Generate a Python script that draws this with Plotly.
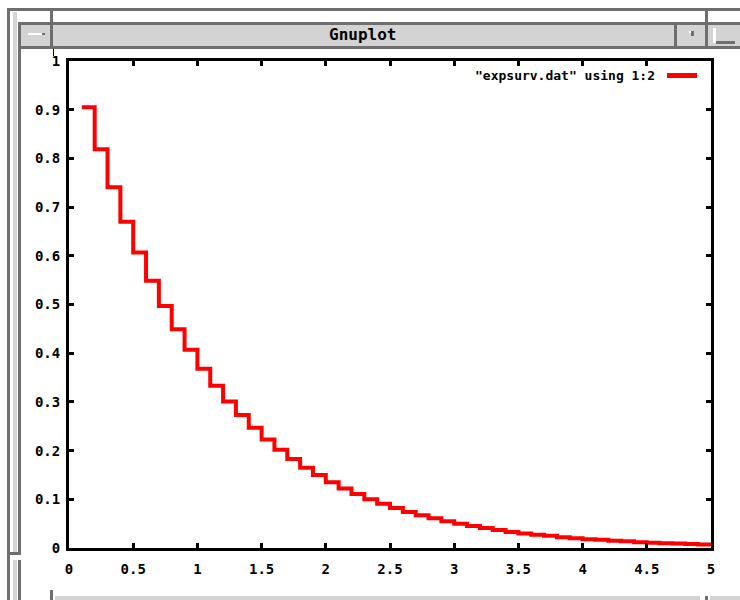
import plotly.graph_objects as go

# ---- data ----
x_vals = [0.1, 0.2, 0.3, 0.4, 0.5, 0.6, 0.7, 0.8, 0.9, 1.0,
          1.1, 1.2, 1.3, 1.4, 1.5, 1.6, 1.7, 1.8, 1.9, 2.0,
          2.1, 2.2, 2.3, 2.4, 2.5, 2.6, 2.7, 2.8, 2.9, 3.0,
          3.1, 3.2, 3.3, 3.4, 3.5, 3.6, 3.7, 3.8, 3.9, 4.0,
          4.1, 4.2, 4.3, 4.4, 4.5, 4.6, 4.7, 4.8, 4.9, 5.0]
y_vals = [0.905, 0.819, 0.741, 0.670, 0.607, 0.549, 0.497, 0.449, 0.407, 0.368,
          0.333, 0.301, 0.273, 0.247, 0.223, 0.202, 0.183, 0.165, 0.150, 0.135,
          0.122, 0.111, 0.100, 0.091, 0.082, 0.074, 0.067, 0.061, 0.055, 0.050,
          0.045, 0.041, 0.037, 0.033, 0.030, 0.027, 0.025, 0.022, 0.020, 0.018,
          0.017, 0.015, 0.014, 0.012, 0.011, 0.010, 0.009, 0.008, 0.007, 0.007]
x_ticks = [0, 0.5, 1, 1.5, 2, 2.5, 3, 3.5, 4, 4.5, 5]
x_tick_text = ["0", "0.5", "1", "1.5", "2", "2.5", "3", "3.5", "4", "4.5", "5"]
y_ticks = [0, 0.1, 0.2, 0.3, 0.4, 0.5, 0.6, 0.7, 0.8, 0.9, 1]
y_tick_text = ["0", "0.1", "0.2", "0.3", "0.4", "0.5", "0.6", "0.7", "0.8", "0.9", "1"]
legend_label = '"expsurv.dat" using 1:2'
window_title = "Gnuplot"

# ---- geometry ----
W, H = 740, 600
L, R, T, B = 69, 711, 61, 548
PW, PH = R - L, B - T

def px(x):
    return (x - L) / PW

def py(y):
    return (B - y) / PH

DARK = "#6e6e6e"
LIGHT = "#d3d3d3"
FONT = "DejaVu Sans Mono"

fig = go.Figure()
fig.add_trace(go.Scatter(
    x=x_vals, y=y_vals, mode="lines", line_shape="hv",
    line=dict(color="#ff0000", width=4), showlegend=False,
))

shapes = []

def rect(x0, y0, x1, y1, color):
    shapes.append(dict(type="rect", xref="paper", yref="paper",
                       x0=px(x0), x1=px(x1), y0=py(y1), y1=py(y0),
                       fillcolor=color, line=dict(width=0), layer="above"))

# window frame
rect(7, 8, 740, 11, DARK)          # outer top line
rect(7, 8, 10, 600, DARK)          # outer left line
rect(13, 12, 17, 600, LIGHT)       # left light strip
rect(18, 22, 21, 600, DARK)        # inner left line
rect(18, 22, 740, 25, DARK)        # title bar top
rect(21, 25, 740, 46, LIGHT)       # title bar fill
rect(18, 46, 740, 49, DARK)        # title bar bottom
rect(50, 8, 53, 49, DARK)          # separators
rect(674, 22, 677, 49, DARK)
rect(705, 8, 708, 49, DARK)
rect(28, 33, 42, 35, "#ffffff")    # left button glyph
rect(42, 33, 45, 35, DARK)
rect(691, 31, 694, 36, DARK)       # right button glyph
rect(689, 31, 691, 33, "#ffffff")
rect(713, 28, 716, 43, "#ffffff")  # far-right glyph
rect(716, 41, 735, 44, DARK)
rect(53, 49, 54, 56, "#000000")
# bottom frame pieces
rect(7, 552, 21, 555, DARK)
rect(10, 555, 21, 560, "#ffffff")
rect(13, 560, 17, 600, LIGHT)
rect(50, 590, 53, 600, DARK)
rect(55, 596, 700, 600, LIGHT)
rect(705, 596, 708, 600, DARK)
rect(710, 596, 740, 600, LIGHT)

# legend sample
rect(667, 73, 697, 78, "#ff0000")

fig.update_layout(
    width=W, height=H,
    margin=dict(l=L, r=W - R, t=T, b=H - B, pad=0),
    paper_bgcolor="#ffffff", plot_bgcolor="#ffffff",
    font=dict(family=FONT, size=14, color="#000000", weight="bold"),
    shapes=shapes,
    annotations=[
        dict(text=window_title, xref="paper", yref="paper",
             x=px(362), y=py(34), xanchor="center", yanchor="middle",
             showarrow=False,
             font=dict(family=FONT, size=16, color="#000000", weight="bold")),
        dict(text=legend_label, xref="paper", yref="paper",
             x=px(657), y=py(76), xanchor="right", yanchor="middle",
             showarrow=False,
             font=dict(family=FONT, size=13, color="#000000", weight="bold")),
    ],
    xaxis=dict(range=[0, 5], tickvals=x_ticks, ticktext=x_tick_text,
               showgrid=False, zeroline=False, showline=True, mirror="ticks",
               linecolor="#000000", linewidth=3, ticks="inside", ticklen=5,
               tickwidth=3, tickcolor="#000000", ticklabelstandoff=6),
    yaxis=dict(range=[0, 1], tickvals=y_ticks, ticktext=y_tick_text,
               showgrid=False, zeroline=False, showline=True, mirror="ticks",
               linecolor="#000000", linewidth=3, ticks="inside", ticklen=5,
               tickwidth=3, tickcolor="#000000", ticklabelstandoff=3),
)

fig.write_html("out.html")
